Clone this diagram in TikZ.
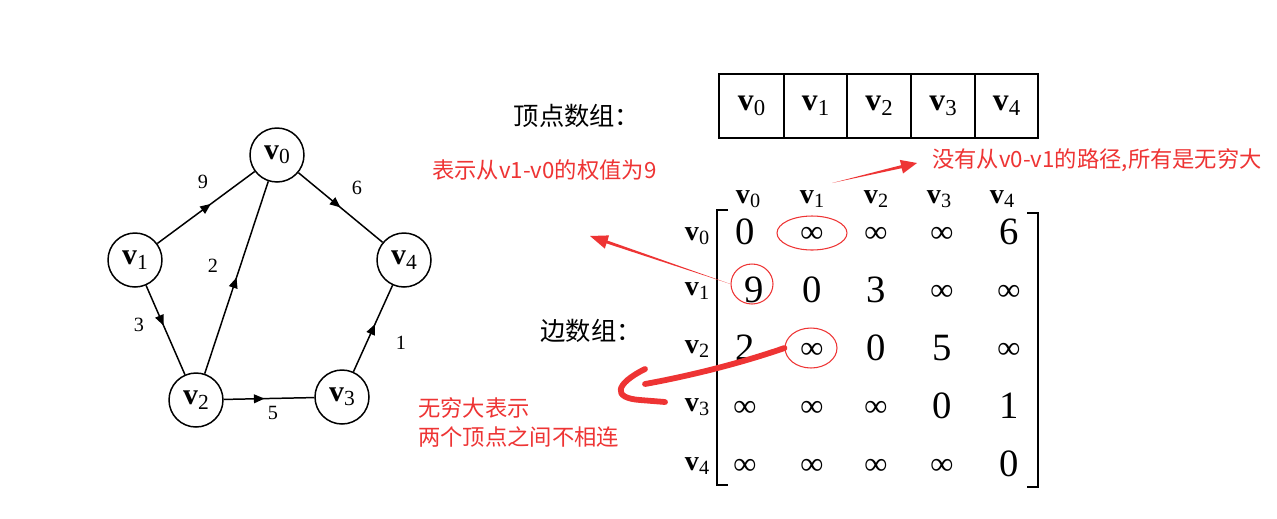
\documentclass[tikz,border=0pt]{standalone}
\usepackage{fontspec}
\setmainfont{Liberation Serif}
\newfontfamily\cjk{Noto Sans CJK SC}
\usetikzlibrary{arrows.meta,decorations.markings,shapes.geometric}
\newcommand\vsub[1]{\textbf{v}\kern0.01em\raisebox{-0.32ex}{\scalebox{0.72}{#1}}}
\definecolor{annred}{RGB}{238,52,52}
\tikzset{
  gnode/.style={circle,draw,line width=0.85pt,minimum size=1.08cm,inner sep=0pt,font=\fontsize{17}{17}\selectfont},
  gedge/.style={line width=0.85pt,postaction={decorate},
    decoration={markings,mark=at position #1 with {\arrow{Triangle[length=6pt,width=5pt]}}}},
  gedge/.default=0.5,
  wlab/.style={font=\fontsize{11.5}{12}\selectfont,inner sep=0pt},
  cell/.style={draw,line width=1pt,minimum width=1.27cm,minimum height=1.28cm,inner sep=0pt,font=\fontsize{18}{18}\selectfont},
  hlab/.style={font=\fontsize{16}{16}\selectfont,inner sep=0pt},
  ent/.style={font=\fontsize{22}{22}\selectfont,inner sep=0pt},
  inf/.style={font=\fontsize{18}{18}\selectfont\bfseries,inner sep=0pt,yshift=-1.5pt},
  cjkblack/.style={font=\cjk\fontsize{14.4}{15}\selectfont,inner sep=0pt},
  cjkred/.style={font=\cjk\fontsize{12.7}{13}\selectfont,text=annred,inner sep=0pt,anchor=west},
  ring/.style={draw=annred,line width=0.6pt,ellipse,inner sep=0pt},
  brk/.style={line width=1.3pt},
  scrib/.style={draw=annred,line width=3.3pt,line cap=round,line join=round},
}
\begin{document}
\begin{tikzpicture}[x=0.02cm,y=-0.02cm]
\useasboundingbox (0,0) rectangle (1277,518);
\fill[white] (0,0) rectangle (1277,518);
% graph
\node[gnode] (v0) at (277,155) {\vsub{0}};
\node[gnode] (v1) at (135,260) {\vsub{1}};
\node[gnode] (v4) at (404,260) {\vsub{4}};
\node[gnode] (v2) at (196,400) {\vsub{2}};
\node[gnode] (v3) at (342,397) {\vsub{3}};
\draw[gedge=0.55] (v1) -- (v0);
\draw[gedge=0.5] (v0) -- (v4);
\draw[gedge=0.5] (v2) -- (v0);
\draw[gedge=0.45] (v1) -- (v2);
\draw[gedge=0.45] (v2) -- (v3);
\draw[gedge=0.55] (v3) -- (v4);
\node[wlab] (l9) at (203,182) {9};
\node[wlab] (l6) at (357,188) {6};
\node[wlab] (l2) at (213,266) {2};
\node[wlab] (l3) at (139,325) {3};
\node[wlab] (l5) at (273,413) {5};
\node[wlab] (l1) at (401,343) {1};
% vertex array
\node[cjkblack] (va) at (577,116) {顶点数组：};
\node[cell,minimum width=1.3cm] (c0) at (751.5,106) {\vsub{0}};
\node[cell] (c1) at (815.5,106) {\vsub{1}};
\node[cell] (c2) at (879,106) {\vsub{2}};
\node[cell] (c3) at (943,106) {\vsub{3}};
\node[cell] (c4) at (1006.5,106) {\vsub{4}};
% edge array
\node[cjkblack] (ea) at (591,331) {边数组：};
\foreach \i/\x in {0/748,1/812,2/876,3/939,4/1002}{
  \node[hlab] (h\i) at (\x,199) {\vsub{\i}};
}
\foreach \i/\y in {0/236,1/291,2/349,3/407,4/466}{
  \node[hlab] (r\i) at (697,\y) {\vsub{\i}};
}
\def\inf{∞}
\foreach \r/\y in {0/232,1/290,2/348,3/406,4/464}{
  \foreach \c/\x in {0/745,1/812,2/876,3/942,4/1009}{
    \coordinate (p\r\c) at (\x,\y);
  }
}
\node[ent] (m00) at (p00) {0};
\node[inf] (m01) at (p01) {\inf};
\node[inf] (m02) at (p02) {\inf};
\node[inf] (m03) at (p03) {\inf};
\node[ent] (m04) at (p04) {6};
\node[ent] (m10) at ([xshift=5]p10) {9};
\node[ent] (m11) at (p11) {0};
\node[ent] (m12) at (p12) {3};
\node[inf] (m13) at (p13) {\inf};
\node[inf] (m14) at (p14) {\inf};
\node[ent] (m20) at (p20) {2};
\node[inf] (m21) at (p21) {\inf};
\node[ent] (m22) at (p22) {0};
\node[ent] (m23) at (p23) {5};
\node[inf] (m24) at (p24) {\inf};
\node[inf] (m30) at (p30) {\inf};
\node[inf] (m31) at (p31) {\inf};
\node[inf] (m32) at (p32) {\inf};
\node[ent] (m33) at (p33) {0};
\node[ent] (m34) at (p34) {1};
\node[inf] (m40) at (p40) {\inf};
\node[inf] (m41) at (p41) {\inf};
\node[inf] (m42) at (p42) {\inf};
\node[inf] (m43) at (p43) {\inf};
\node[ent] (m44) at (p44) {0};
% brackets
\draw[brk] (728,210) -- (717,210) -- (717,485) -- (728,485);
\draw[brk] (1027,213) -- (1038,213) -- (1038,487) -- (1027,487);
% annotations
\node[ring,minimum width=1.4cm,minimum height=0.68cm] (e01) at (812,233) {};
\node[ring,minimum width=0.84cm,minimum height=0.8cm] (e10) at (752,284) {};
\node[ring,minimum width=1.04cm,minimum height=0.8cm] (e21) at (811,348) {};
\node[cjkred] (t1) at (432,170) {表示从v1-v0的权值为9};
\node[cjkred] (t2) at (932,160) {没有从v0-v1的路径,所有是无穷大};
\node[cjkred] (t3) at (418,408) {无穷大表示};
\node[cjkred] (t4) at (418,437) {两个顶点之间不相连};
% arrow from ring 9
\coordinate (a1s) at (e10.west);
\fill[annred] (a1s) -- (607.5,240.6) -- (609,235.4) -- (590,236) -- (604.8,248.6) -- (606.5,243.4) -- cycle;
% arrow to top text
\coordinate (a2s) at (832,183);
\fill[annred] (a2s) -- (901.7,168.2) -- (903,173.5) -- (917,163) -- (899.8,159.9) -- (901.1,165.2) -- cycle;
% scribble arrow
\coordinate (s0) at (e21.west);
\draw[scrib] (s0) .. controls (750,360) and (700,374) .. (645,384);
\draw[scrib] (645,369) .. controls (615,384) and (612,398) .. (640,400) -- (665,402);
\end{tikzpicture}
\end{document}
